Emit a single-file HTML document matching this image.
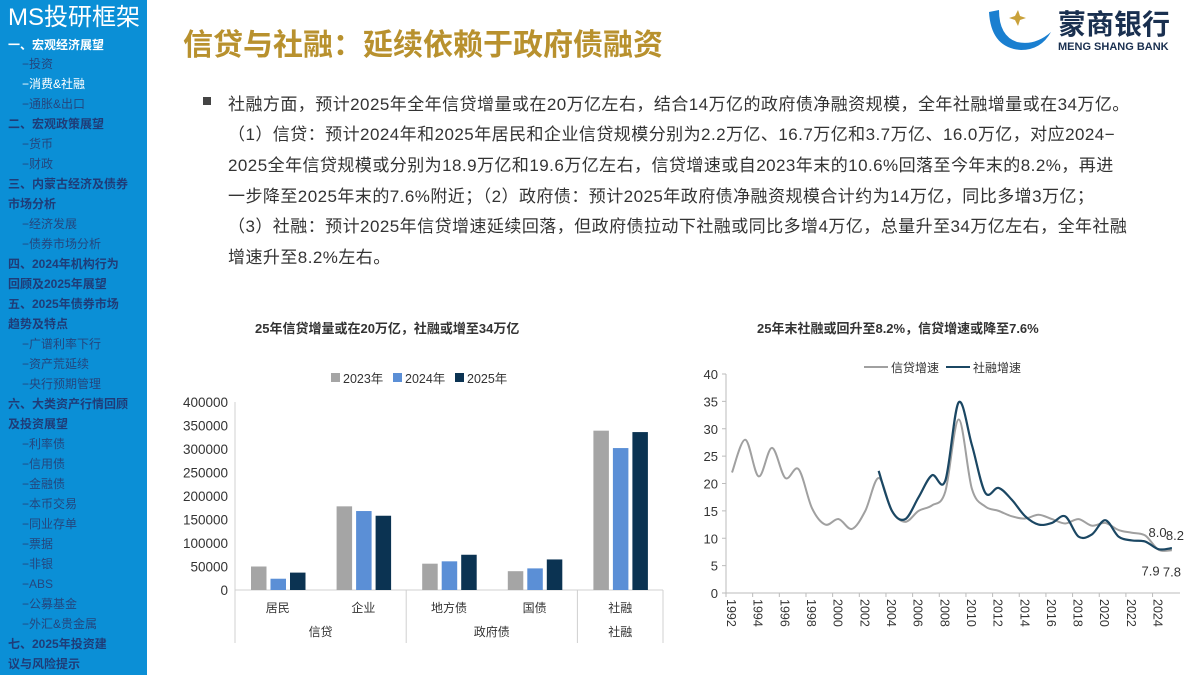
<!DOCTYPE html>
<html><head><meta charset="utf-8">
<style>
body{margin:0;width:1200px;height:675px;overflow:hidden;background:#fff;font-family:"Liberation Sans","Noto Sans CJK SC",sans-serif;position:relative}
#side{position:absolute;left:0;top:0;width:147px;height:675px;background:#0b8fd6}
#side div{position:absolute;left:8px;font-size:12px;line-height:14px;white-space:nowrap;color:#1f3c78;font-weight:bold}
#side div.s{left:22px;font-weight:normal;color:#24467e}
#side div.w{color:#fff}
.t{position:absolute;white-space:nowrap}
.body{position:absolute;left:228px;font-size:17px;color:#333;white-space:nowrap;letter-spacing:0.45px}
</style></head><body>
<div id="side">
<div class="w" style="top:4px;font-size:24px;line-height:28px;font-weight:normal">MS投研框架</div>
<div class="w" style="top:38px">一、宏观经济展望</div>
<div class="s" style="top:57px">−投资</div>
<div class="s w" style="top:77px">−消费&amp;社融</div>
<div class="s" style="top:97px">−通胀&amp;出口</div>
<div style="top:117px">二、宏观政策展望</div>
<div class="s" style="top:137px">−货币</div>
<div class="s" style="top:157px">−财政</div>
<div style="top:177px">三、内蒙古经济及债券</div>
<div style="top:197px">市场分析</div>
<div class="s" style="top:217px">−经济发展</div>
<div class="s" style="top:237px">−债券市场分析</div>
<div style="top:257px">四、2024年机构行为</div>
<div style="top:277px">回顾及2025年展望</div>
<div style="top:297px">五、2025年债券市场</div>
<div style="top:317px">趋势及特点</div>
<div class="s" style="top:337px">−广谱利率下行</div>
<div class="s" style="top:357px">−资产荒延续</div>
<div class="s" style="top:377px">−央行预期管理</div>
<div style="top:397px">六、大类资产行情回顾</div>
<div style="top:417px">及投资展望</div>
<div class="s" style="top:437px">−利率债</div>
<div class="s" style="top:457px">−信用债</div>
<div class="s" style="top:477px">−金融债</div>
<div class="s" style="top:497px">−本币交易</div>
<div class="s" style="top:517px">−同业存单</div>
<div class="s" style="top:537px">−票据</div>
<div class="s" style="top:557px">−非银</div>
<div class="s" style="top:577px">−ABS</div>
<div class="s" style="top:597px">−公募基金</div>
<div class="s" style="top:617px">−外汇&amp;贵金属</div>
<div style="top:637px">七、2025年投资建</div>
<div style="top:657px">议与风险提示</div>
</div>

<div class="t" style="left:183px;top:20px;font-size:30px;font-weight:bold;color:#b8912e">信贷与社融：延续依赖于政府债融资</div>
<svg style="position:absolute;left:985px;top:8px" width="70" height="46"><path d="M4 4 Q6 40 36 42 Q56 42 66 24 Q50 38 32 34 Q14 28 14 2 Z" fill="#1a7fd0"/><path d="M30 8 l3 -6 l2 6 l6 2 l-6 2 l-2 6 l-3 -6 l-6 -2 Z" fill="#c9a13a"/></svg>
<div class="t" style="left:1058px;top:9px;font-size:28px;line-height:32px;color:#1a3050;font-weight:bold">蒙商银行</div>
<div class="t" style="left:1058px;top:41px;font-size:11px;line-height:13px;color:#1a3050;font-weight:bold">MENG SHANG BANK</div>

<div class="t" style="left:203px;top:97px;width:8px;height:8px;background:#444"></div>
<div class="body" style="top:90px">社融方面，预计2025年全年信贷增量或在20万亿左右，结合14万亿的政府债净融资规模，全年社融增量或在34万亿。</div>
<div class="body" style="top:120px">（1）信贷：预计2024年和2025年居民和企业信贷规模分别为2.2万亿、16.7万亿和3.7万亿、16.0万亿，对应2024−</div>
<div class="body" style="top:151px">2025全年信贷规模或分别为18.9万亿和19.6万亿左右，信贷增速或自2023年末的10.6%回落至今年末的8.2%，再进</div>
<div class="body" style="top:182px">一步降至2025年末的7.6%附近；（2）政府债：预计2025年政府债净融资规模合计约为14万亿，同比多增3万亿；</div>
<div class="body" style="top:212px">（3）社融：预计2025年信贷增速延续回落，但政府债拉动下社融或同比多增4万亿，总量升至34万亿左右，全年社融</div>
<div class="body" style="top:243px">增速升至8.2%左右。</div>

<div class="t" style="left:255px;top:318px;font-size:13px;font-weight:bold;color:#333">25年信贷增量或在20万亿，社融或增至34万亿</div>
<div class="t" style="left:757px;top:318px;font-size:13px;font-weight:bold;color:#333">25年末社融或回升至8.2%，信贷增速或降至7.6%</div>

<svg id="bar" style="position:absolute;left:0;top:0" width="1200" height="675"></svg>
<svg id="line" style="position:absolute;left:0;top:0;pointer-events:none" width="1200" height="675"></svg>

<script>
const barCats=["居民","企业","地方债","国债","社融"];
const barGroups=[["信贷",0,2],["政府债",2,4],["社融",4,5]];
const barSeriesNames=["2023年","2024年","2025年"];
const s2023=[50000,178000,56000,40000,339000];
const s2024=[24000,168000,61000,46000,302000];
const s2025=[37000,158000,75000,65000,336000];
const barTicks=[0,50000,100000,150000,200000,250000,300000,350000,400000];

const lineLegend=["信贷增速","社融增速"];
const creditYears=[1992,1993,1994,1995,1996,1997,1998,1999,2000,2001,2002,2003,2004,2005,2006,2007,2008,2009,2010,2011,2012,2013,2014,2015,2016,2017,2018,2019,2020,2021,2022,2023,2024,2025];
const creditVals=[22,28,21.3,26.5,21,22.6,15.5,12.5,13.5,11.7,15,21,15,13,15,16,18.5,31.7,19,15.8,15,14,13.6,14.3,13.5,12.7,13.5,12.3,12.8,11.5,11,10.5,7.9,7.8];
const tsfYears=[2003,2004,2005,2006,2007,2008,2009,2010,2011,2012,2013,2014,2015,2016,2017,2018,2019,2020,2021,2022,2023,2024,2025];
const tsfVals=[22.3,15,13.5,17.5,21.5,20.5,34.8,27,18.3,19.2,17,14,12.5,12.8,14,10.3,10.7,13.3,10.3,9.6,9.4,8.0,8.2];
const lineYTicks=[0,5,10,15,20,25,30,35,40];
const lineXTicks=[1992,1994,1996,1998,2000,2002,2004,2006,2008,2010,2012,2014,2016,2018,2020,2022,2024];

const NS="http://www.w3.org/2000/svg";
function mk(svg,tag,attrs,text){const e=document.createElementNS(NS,tag);for(const k in attrs)e.setAttribute(k,attrs[k]);if(text!==undefined)e.textContent=text;svg.appendChild(e);return e;}

(function(){
const svg=document.getElementById('bar');
const x0=235,x1=663,y0=590,y1=402,max=400000;
const ys=v=>y0-(v/max)*(y0-y1);
const gw=(x1-x0)/barCats.length;
const colors=["#a5a5a5","#5b8fd6","#0b3352"];
barTicks.forEach(t=>{const e=mk(svg,'text',{x:228,y:ys(t)+5,'text-anchor':'end','font-size':13.5,fill:'#333'},t);

});
mk(svg,'line',{x1:x0,y1:y1,x2:x0,y2:643,stroke:'#d0d0d0'});
mk(svg,'line',{x1:x0,y1:y0,x2:x1,y2:y0,stroke:'#d0d0d0'});
const series=[s2023,s2024,s2025];
barCats.forEach((c,i)=>{
 const gx=x0+i*gw;
 series.forEach((s,j)=>{const bx=gx+16+j*19.5;const r=mk(svg,'rect',{x:bx,y:ys(s[i]),width:15.5,height:y0-ys(s[i]),fill:colors[j]});
 
 });
 const l=mk(svg,'text',{x:gx+gw/2,y:612,'text-anchor':'middle','font-size':12,fill:'#333'},c);
 
 
});
barGroups.forEach(g=>{
 const gx=x0+g[1]*gw,gx2=x0+g[2]*gw;
 mk(svg,'line',{x1:gx2,y1:y0,x2:gx2,y2:643,stroke:'#d0d0d0'});
 const l=mk(svg,'text',{x:(gx+gx2)/2,y:636,'text-anchor':'middle','font-size':12,fill:'#333'},g[0]);
 
 
});
barSeriesNames.forEach((n,j)=>{const lx=331+j*62;
 const r=mk(svg,'rect',{x:lx,y:373,width:9,height:9,fill:colors[j]});
 
 
 const t=mk(svg,'text',{x:lx+12,y:383,'font-size':12.5,fill:'#333'},n);
 
 });
})();

(function(){
const svg=document.getElementById('line');
const x0=726,y0=593,y1=374,max=40;
const xs=yr=>x0+(yr+0.45-1992)*13.33;
const ys=v=>y0-(v/max)*(y0-y1);
mk(svg,'line',{x1:x0,y1:y1,x2:x0,y2:y0,stroke:'#bbb'});
mk(svg,'line',{x1:x0,y1:y0,x2:1180,y2:y0,stroke:'#bbb'});
lineYTicks.forEach(t=>{const e=mk(svg,'text',{x:718,y:ys(t)+5,'text-anchor':'end','font-size':13,fill:'#333'},t);


mk(svg,'line',{x1:x0-4,y1:ys(t),x2:x0,y2:ys(t),stroke:'#bbb'});});
lineXTicks.forEach(t=>{
 mk(svg,'line',{x1:x0+(t-1992)*13.33,y1:y0,x2:x0+(t-1992)*13.33,y2:y0+4,stroke:'#bbb'});
 const e=mk(svg,'text',{x:0,y:0,'font-size':12.5,fill:'#333',transform:`translate(${x0+(t-1992)*13.33+1},${y0+6}) rotate(90)`},t);
 
 });
function smooth(ptsX,ptsY){const p=ptsX.map((x,i)=>[xs(x),ys(ptsY[i])]);let d=`M${p[0][0]},${p[0][1]}`;
 for(let i=0;i<p.length-1;i++){const a=p[i-1]||p[i],b=p[i],c=p[i+1],e=p[i+2]||c;
 d+=` C${b[0]+(c[0]-a[0])/6},${b[1]+(c[1]-a[1])/6} ${c[0]-(e[0]-b[0])/6},${c[1]-(e[1]-b[1])/6} ${c[0]},${c[1]}`;}return d;}
const c=mk(svg,'path',{d:smooth(creditYears,creditVals),fill:'none',stroke:'#a0a0a0','stroke-width':2});


const s=mk(svg,'path',{d:smooth(tsfYears,tsfVals),fill:'none',stroke:'#1b4763','stroke-width':2.2});


const n=tsfVals.length,m=creditVals.length;
const lab=[[tsfVals[n-2].toFixed(1),xs(tsfYears[n-2])-10,ys(tsfVals[n-2])-12],[tsfVals[n-1].toFixed(1),xs(tsfYears[n-1])-6,ys(tsfVals[n-1])-8],
 [creditVals[m-2].toFixed(1),xs(creditYears[m-2])-17,ys(creditVals[m-2])+26],[creditVals[m-1].toFixed(1),xs(creditYears[m-1])-9,ys(creditVals[m-1])+26]];
lab.forEach(l=>{const e=mk(svg,'text',{x:l[1],y:l[2],'font-size':13,fill:'#333'},l[0]);
 
 });
const lc=['#a0a0a0','#1b4763'];
lineLegend.forEach((nm,i)=>{const lx=864+i*82;
 mk(svg,'line',{x1:lx,y1:367,x2:lx+24,y2:367,stroke:lc[i],'stroke-width':2});
 const e=mk(svg,'text',{x:lx+27,y:372,'font-size':12,fill:'#333'},nm);
 
 });
})();
</script>
</body></html>
